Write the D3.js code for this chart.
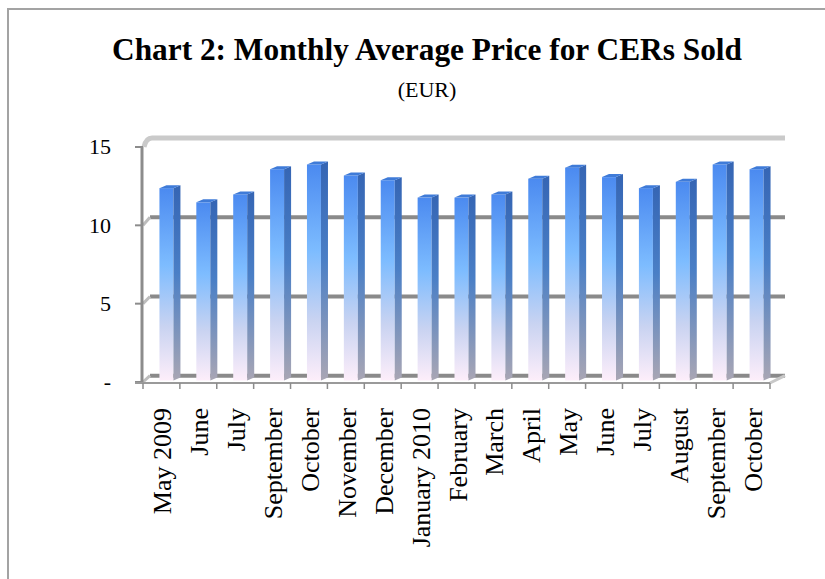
<!DOCTYPE html>
<html>
<head>
<meta charset="utf-8">
<script src="https://cdn.jsdelivr.net/npm/d3@7"></script>
<style>
  body { margin: 0; background: #fff; }
  svg { display: block; font-family: "Liberation Serif", "Times New Roman", serif; }
</style>
</head>
<body>
<div id="chart"></div>
<script>
const width = 825;
const height = 579;

const months = ["May 2009", "June", "July", "September", "October", "November", "December",
  "January 2010", "February", "March", "April", "May", "June ", "July ", "August", "September ", "October "];
const prices = [12.2, 11.3, 11.8, 13.4, 13.7, 13.0, 12.7, 11.6, 11.6, 11.8, 12.8, 13.5, 12.9, 12.2, 12.6, 13.7, 13.4];
const yTicks = [0, 5, 10, 15];
const yTickLabels = ["-", "5", "10", "15"];

const x = d3.scaleBand().domain(months).range([143, 770]);
const yFront = d3.scaleLinear().domain([0, 15]).range([382, 147]);
const yBack = d3.scaleLinear().domain([0, 15]).range([375.7, 138]);
const yBar = d3.scaleLinear().domain([0, 15]).range([380.5, 144]);
const xBack = d3.scaleLinear().domain([143, 770]).range([150, 785]);

const svg = d3.select("#chart")
    .append("svg")
    .attr("width", width)
    .attr("height", height);

const defs = svg.append("defs");

const gFront = defs.append("linearGradient")
    .attr("id", "front").attr("x1", 0).attr("y1", 0).attr("x2", 0).attr("y2", 1);
[["0%", "#4b8af0"], ["40%", "#7dbcff"], ["72%", "#c9d3f1"], ["100%", "#fdeefa"]]
  .forEach(s => gFront.append("stop").attr("offset", s[0]).attr("stop-color", s[1]));

const gSide = defs.append("linearGradient")
    .attr("id", "side").attr("x1", 0).attr("y1", 0).attr("x2", 0).attr("y2", 1);
[["0%", "#3565b4"], ["45%", "#4a7fc6"], ["100%", "#a9a6b4"]]
  .forEach(s => gSide.append("stop").attr("offset", s[0]).attr("stop-color", s[1]));

// frame
svg.append("rect")
    .attr("x", 8).attr("y", 9)
    .attr("width", 840).attr("height", 600)
    .attr("fill", "#fff")
    .attr("stroke", "#a3a3a3")
    .attr("stroke-width", 2);

// title
svg.append("text")
    .attr("x", 427).attr("y", 60)
    .attr("text-anchor", "middle")
    .attr("font-weight", "bold")
    .attr("font-size", 31)
    .attr("textLength", 630)
    .attr("lengthAdjust", "spacingAndGlyphs")
    .text("Chart 2: Monthly Average Price for CERs Sold");

svg.append("text")
    .attr("x", 427).attr("y", 97)
    .attr("text-anchor", "middle")
    .attr("font-size", 22)
    .text("(EUR)");

// back wall gridlines
const x0 = x.range()[0], x1 = x.range()[1];
svg.append("g")
  .selectAll("line")
  .data(yTicks.filter(d => d < 15))
  .join("line")
    .attr("x1", xBack(x0)).attr("x2", xBack(x1))
    .attr("y1", d => yBack(d)).attr("y2", d => yBack(d))
    .attr("stroke", "#8a8a8a")
    .attr("stroke-width", 4);

// top edge of the wall
svg.append("path")
    .attr("d", `M${x0 + 1},${yFront(15)} Q${x0 + 3},${yBack(15)} ${xBack(x0) + 2},${yBack(15)} L${xBack(x1)},${yBack(15)}`)
    .attr("fill", "none")
    .attr("stroke", "#cacaca")
    .attr("stroke-width", 5);

// side wall diagonals
svg.append("g")
  .selectAll("line")
  .data(yTicks.filter(d => d < 15))
  .join("line")
    .attr("x1", x0).attr("y1", d => yFront(d))
    .attr("x2", xBack(x0)).attr("y2", d => yBack(d))
    .attr("stroke", "#bdbdbd")
    .attr("stroke-width", 3);

// floor right edge
svg.append("line")
    .attr("x1", x1).attr("y1", yFront(0) + 1)
    .attr("x2", xBack(x1)).attr("y2", yBack(0))
    .attr("stroke", "#c8c8c8")
    .attr("stroke-width", 3);

// bars
const fw = 14, dx = 7, dy = 3;
const bar = svg.append("g")
  .selectAll("g")
  .data(months.map((m, i) => ({ m, v: prices[i] })))
  .join("g");

bar.append("rect")
    .attr("x", d => x(d.m) + x.bandwidth() / 2 - 2)
    .attr("y", d => yBar(d.v))
    .attr("width", fw)
    .attr("height", d => yBar(0) - yBar(d.v))
    .attr("fill", "url(#front)");

bar.append("path")
    .attr("d", d => {
      const l = x(d.m) + x.bandwidth() / 2 - 2 + fw, t = yBar(d.v), b = yBar(0);
      return `M${l},${t} L${l + dx},${t - dy} L${l + dx},${b - dy} L${l},${b} Z`;
    })
    .attr("fill", "url(#side)");

bar.append("path")
    .attr("d", d => {
      const l = x(d.m) + x.bandwidth() / 2 - 2, t = yBar(d.v);
      return `M${l},${t} L${l + dx},${t - dy} L${l + fw + dx},${t - dy} L${l + fw},${t} Z`;
    })
    .attr("fill", "#3f7bd8");

// front y axis
svg.append("line")
    .attr("x1", x0 - 1).attr("x2", x0 - 1)
    .attr("y1", yFront(15)).attr("y2", yFront(0) + 1)
    .attr("stroke", "#8c8c8c")
    .attr("stroke-width", 3);

svg.append("g")
  .selectAll("line")
  .data(yTicks)
  .join("line")
    .attr("x1", x0 - 8).attr("x2", x0)
    .attr("y1", d => yFront(d)).attr("y2", d => yFront(d))
    .attr("stroke", "#8c8c8c")
    .attr("stroke-width", 2);

svg.append("g")
  .selectAll("text")
  .data(yTicks)
  .join("text")
    .attr("x", 111)
    .attr("y", d => yFront(d))
    .attr("dy", "0.34em")
    .attr("text-anchor", "end")
    .attr("font-size", 22)
    .text((d, i) => yTickLabels[i]);

// floor front edge and ticks
svg.append("line")
    .attr("x1", x0 - 8).attr("x2", x1)
    .attr("y1", yFront(0) + 1).attr("y2", yFront(0) + 1)
    .attr("stroke", "#9a9a9a")
    .attr("stroke-width", 2);

svg.append("g")
  .selectAll("line")
  .data(months.map(m => x(m)).concat([x1]))
  .join("line")
    .attr("x1", d => d).attr("x2", d => d)
    .attr("y1", yFront(0) + 1).attr("y2", yFront(0) + 7)
    .attr("stroke", "#8c8c8c")
    .attr("stroke-width", 1.5);

// category labels
svg.append("g")
  .selectAll("text")
  .data(months)
  .join("text")
    .attr("transform", d => `translate(${x(d) + x.bandwidth() / 2 + 10},408) rotate(-90)`)
    .attr("text-anchor", "end")
    .attr("font-size", 26)
    .text(d => d.trim());
</script>
</body>
</html>
